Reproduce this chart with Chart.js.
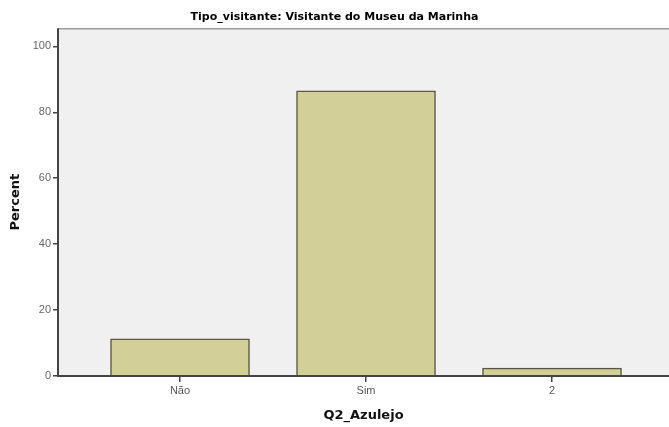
<!DOCTYPE html>
<html><head><meta charset="utf-8">
<script src="https://cdn.jsdelivr.net/npm/chart.js@4"></script>
<style>html,body{margin:0;padding:0;background:#fff;}#wrap{width:669px;height:427px;}</style>
</head><body><div id="wrap"><canvas id="c"></canvas></div>
<script>
const categories = ["Não", "Sim", "2"];
const percentValues = [11.3, 86.5, 2.4];
const yTicks = [0, 20, 40, 60, 80, 100];
const titleText = "Tipo_visitante: Visitante do Museu da Marinha";

const bgPlugin = {
  id: 'bg',
  beforeDraw(chart) {
    const {ctx, chartArea: a} = chart;
    ctx.save();
    ctx.fillStyle = '#f0f0f0';
    ctx.fillRect(a.left, a.top, a.right - a.left, a.bottom - a.top);
    ctx.strokeStyle = '#9a9a9a';
    ctx.lineWidth = 1.5;
    ctx.beginPath();
    ctx.moveTo(a.left, a.top + 0.5); ctx.lineTo(a.right, a.top + 0.5);
    ctx.stroke();
    ctx.restore();
  },
  afterDatasetsDraw(chart) {
    const {ctx, chartArea: a} = chart;
    ctx.save();
    ctx.strokeStyle = '#444';
    ctx.lineWidth = 2;
    ctx.beginPath();
    ctx.moveTo(a.left, a.top); ctx.lineTo(a.left, a.bottom); ctx.lineTo(a.right, a.bottom);
    ctx.stroke();
    ctx.restore();
  }
};

new Chart(document.getElementById('c'), {
  type: 'bar',
  data: {
    datasets: [{
      data: categories.map((c, i) => ({x: i, y: percentValues[i]})),
      backgroundColor: 'rgb(211,207,152)',
      borderColor: '#5a5840',
      borderWidth: 1.5,
      borderSkipped: 'bottom',
      barThickness: 139
    }]
  },
  options: {
    responsive: true,
    maintainAspectRatio: false,
    animation: false,
    layout: {padding: {left: 0, right: 0, top: 0, bottom: 0}},
    plugins: {
      legend: {display: false},
      tooltip: {enabled: false},
      title: {
        display: true, text: titleText, color: '#000',
        font: {family: 'DejaVu Sans', size: 11, weight: 'bold'},
        padding: {top: 11, bottom: 4}
      }
    },
    scales: {
      x: {
        type: 'linear', min: -0.656, max: 2.629, offset: false,
        afterBuildTicks(s) { s.ticks = categories.map((c, i) => ({value: i})); },
        afterFit(s) { s.height = 51; },
        grid: {display: true, offset: false, drawOnChartArea: false, drawTicks: true, tickLength: 6, color: '#444', lineWidth: 1.5},
        border: {display: false},
        ticks: {
          color: '#555', padding: 2,
          font: {family: 'Liberation Sans', size: 11},
          callback: (v) => categories[v]
        },
        title: {display: true, text: 'Q2_Azulejo', color: '#111',
          font: {family: 'DejaVu Sans', size: 13, weight: 'bold'}, padding: {top: 7}}
      },
      y: {
        min: 0, max: 105.5,
        afterBuildTicks(s) { s.ticks = yTicks.map(v => ({value: v})); },
        afterFit(s) { s.width = 58; },
        grid: {display: true, drawOnChartArea: false, drawTicks: true, tickLength: 5, color: '#444', lineWidth: 1.5},
        border: {display: false},
        ticks: {color: '#666', padding: 2, font: {family: 'Liberation Sans', size: 11}},
        title: {display: true, text: 'Percent', color: '#111',
          font: {family: 'DejaVu Sans', size: 13, weight: 'bold'}, padding: {top: 8, bottom: 0}}
      }
    }
  },
  plugins: [bgPlugin]
});
</script></body></html>
